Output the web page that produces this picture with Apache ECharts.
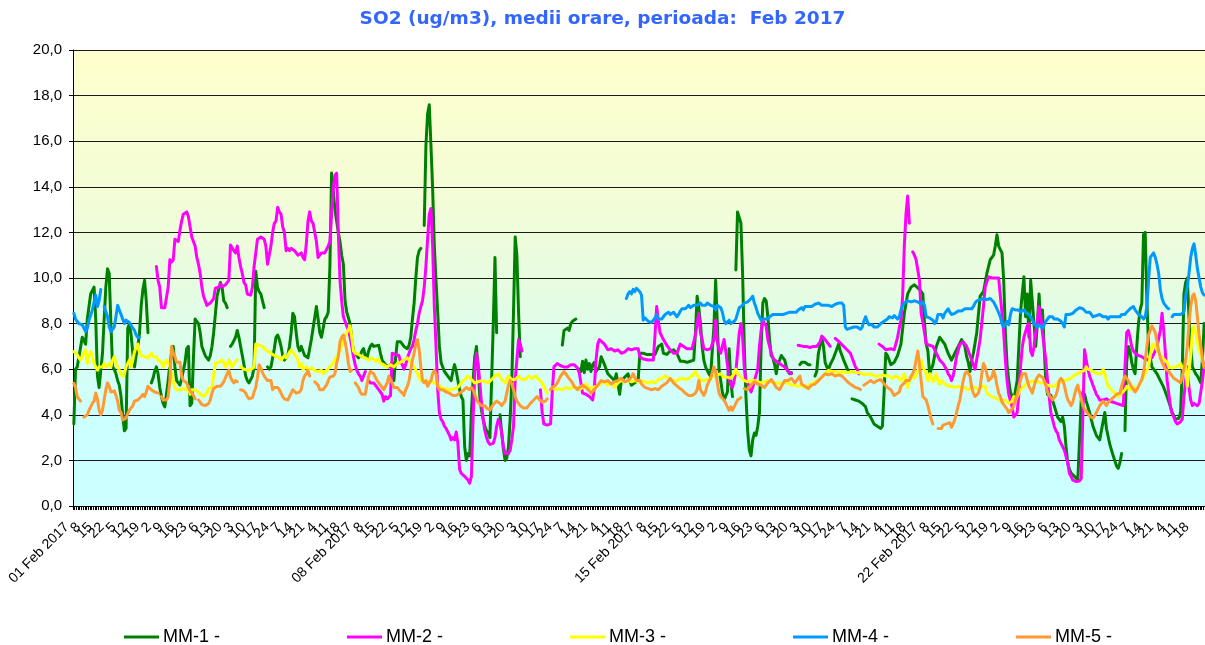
<!DOCTYPE html>
<html><head><meta charset="utf-8">
<script src="https://cdn.jsdelivr.net/npm/echarts@6/dist/echarts.min.js"></script>
<style>html,body{margin:0;padding:0;background:#fff}#c{width:1205px;height:645px}</style>
</head><body><div id="c"></div>
<script>
// ---- tick labels ----
const days = [];
for (let d = 1; d <= 28; d++) days.push((d < 10 ? '0' + d : '' + d) + ' Feb 2017');
const hours = ['1','2','3','4','5','6','7','8','9','10','11','12','13','14','15','16','17','18','19','20','21','22','23','24'];
const labelStep = 7;
const yTicks = [0,2,4,6,8,10,12,14,16,18,20];
const seriesNames = ['MM-1 -','MM-2 -','MM-3 -','MM-4 -','MM-5 -'];

// ---- series values: flat lists of (hour index, value); null = no data ----
const mm1 = [0,3.6,1,6.0,2,6.1,3,6.1,5,7.4,7,7.1,8,8.2,10,9.3,12,9.6,13,8.2,14,5.7,15,5.2,17,6.7,18,8.2,19,9.6,20,10.4,21,10.2,22,8.0,23,6.1,24,6.0,25,5.8,26,5.5,27,5.3,28,4.8,29,4.0,30,3.3,31,3.4,32,7.8,33,8.0,34,7.5,35,6.7,36,6.1,37,6.6,38,7.0,39,7.6,40,8.8,41,9.5,42,9.9,43,9.0,44,7.6,45,null,46,5.4,47,5.6,48,5.9,49,6.1,50,5.8,51,5.2,52,4.8,53,4.5,54,4.35,55,4.4,56,5.5,57,6.2,58,6.7,59,7.0,60,6.1,61,5.5,62,5.4,63,5.3,64,5.6,65,5.6,66,6.3,67,6.9,68,7.0,69,4.4,70,4.5,71,6.5,72,8.2,73,8.2,74,8.0,75,7.6,76,7.0,77,6.8,78,6.6,79,6.5,80,6.4,81,6.6,82,7.0,83,7.6,84,8.4,85,9.2,86,9.2,87,9.8,88,9.6,89,9.0,90,8.9,91,8.7,92,null,93,7.0,94,7.1,95,7.1,96,7.4,97,7.7,98,7.4,99,7.0,100,6.6,101,6.2,102,5.7,103,5.5,104,5.4,105,5.4,106,5.7,107,6.1,108,10.3,109,9.6,110,9.4,111,9.3,112,9.0,113,8.7,114,null,115,6.1,116,6.0,117,6.1,118,6.1,119,6.9,120,7.4,121,7.5,122,7.3,123,7.0,124,6.6,125,6.4,126,6.4,127,6.6,128,7.0,129,7.6,130,8.45,131,8.3,132,7.6,133,7.0,134,6.8,135,7.0,137,6.6,139,6.5,141,7.3,142,7.35,144,8.75,145,8.2,146,7.6,147,7.4,148,7.8,149,8.2,150,8.3,151,8.5,152,10.5,153,14.6,154,13.8,155,13.0,156,12.5,157,12.0,158,11.6,159,11.0,160,10.6,161,9.0,162,8.5,163,8.5,164,8.0,165,7.3,166,6.8,167,6.7,168,6.6,169,6.5,170,6.6,171,6.8,172,6.9,173,6.6,174,6.5,175,6.8,176,7.0,177,7.1,178,7.0,179,7.05,181,7.05,182,6.7,183,6.4,185,6.2,187,6.1,189,6.3,190,5.5,191,6.5,192,7.2,193,7.2,194,7.2,195,7.1,196,7.0,198,6.9,199,7.05,200,7.4,201,8.2,202,8.9,203,10.0,204,10.9,205,11.2,206,11.3,207,null,208,12.3,209,15.8,210,17.2,211,17.6,212,15.8,213,13.9,214,11.4,215,9.9,216,8.5,217,7.0,218,6.3,219,6.1,220,5.9,221,5.8,222,5.7,223,5.6,224,5.5,225,5.9,226,6.2,227,5.9,228,5.5,229,5.1,230,4.8,231,4.65,232,2.6,233,2.0,234,2.3,235,2.2,236,4.1,237,5.5,238,6.55,239,7.0,240,6.0,241,4.8,242,4.2,243,3.8,244,3.5,245,3.3,246,3.2,247,3.0,248,5.5,249,8.0,250,10.9,251,7.6,252,null,253,4.0,254,3.2,255,2.5,256,2.0,257,2.1,258,2.6,259,3.8,260,5.5,261,8.5,262,11.8,263,11.0,264,8.5,265,6.55,266,null,290,7.06,291,7.7,292,7.75,293,7.8,294,7.7,295,8.0,296,8.1,297,8.15,298,8.2,299,null,300,6.0,301,5.9,302,6.35,303,5.85,304,6.4,305,6.0,306,6.25,307,5.9,308,6.2,309,6.3,310,5.9,311,6.0,312,6.1,313,6.55,315,6.2,317,5.8,319,5.65,321,5.5,322,5.8,324,4.9,325,5.5,327,5.65,329,5.8,330,5.5,331,5.3,333,5.4,335,5.5,336,6.7,338,6.7,340,6.65,343,6.65,345,6.65,347,7.0,349,7.1,350,6.7,352,6.65,354,6.8,356,6.85,358,6.7,360,6.35,362,6.35,364,6.3,366,6.35,368,6.4,369,7.6,370,9.2,371,8.7,372,8.0,373,7.0,374,6.4,375,6.1,376,5.95,377,5.8,378,5.7,379,5.7,380,7.9,381,9.9,382,8.0,383,6.0,384,5.5,385,5.0,386,4.65,387,4.7,388,5.0,389,6.9,390,5.5,391,4.8,392,null,393,10.35,394,12.9,395,12.9,396,12.4,397,10.2,398,7.0,399,4.8,400,3.3,401,2.45,402,2.2,403,2.9,404,3.2,405,3.1,406,3.5,407,4.1,408,7.0,409,8.9,410,9.1,411,9.0,412,8.3,413,7.3,414,6.6,415,6.5,416,6.2,417,5.8,418,6.25,419,6.4,420,6.6,421,6.6,422,6.4,423,6.1,424,5.9,425,5.8,426,5.85,427,null,431,6.2,432,6.3,434,6.3,436,6.2,437,6.2,438,null,440,5.7,441,5.9,442,6.7,443,7.05,444,7.4,445,7.0,446,6.3,447,6.1,448,6.0,449,6.2,451,6.5,453,6.9,454,7.1,455,6.8,457,6.4,459,6.05,460,5.9,461,null,462,4.7,464,4.65,466,4.6,468,4.5,470,4.35,471,4.1,473,3.9,475,3.6,477,3.5,479,3.4,480,3.5,481,5.0,482,6.7,483,6.6,485,6.2,487,6.3,489,6.6,491,7.1,493,8.45,495,9.3,497,9.6,499,9.7,500,9.65,502,9.5,504,9.3,505,8.0,506,7.1,507,6.8,508,5.8,510,6.2,512,7.0,514,7.4,515,7.45,517,7.1,519,6.7,521,6.4,523,6.7,525,7.0,527,7.3,529,7.0,530,6.55,531,6.3,532,5.9,533,6.4,534,6.7,536,7.6,538,9.2,540,9.4,542,10.2,544,10.8,546,11.0,547,11.4,548,11.9,549,11.4,551,11.1,552,9.9,553,7.6,554,6.2,555,5.5,556,5.0,557,4.8,558,4.65,559,4.65,560,5.5,561,7.0,562,8.5,563,9.3,564,10.05,565,8.3,566,9.3,567,7.4,568,9.9,569,9.9,570,8.0,571,7.0,572,8.0,573,9.3,574,7.9,575,8.6,576,7.0,577,5.5,578,4.9,580,4.85,582,4.4,584,3.9,586,3.7,587,3.9,588,3.5,589,2.6,590,1.9,591,1.6,592,1.45,594,1.3,596,1.15,597,1.14,598,4.6,599,5.0,600,4.9,601,4.6,603,4.1,605,3.5,607,3.1,609,2.9,610,3.3,611,3.7,612,4.1,613,3.4,615,2.7,617,2.2,619,1.75,620,1.65,621,1.9,622,2.3,623,null,624,3.3,625,6.3,626,7.0,627,6.8,628,6.3,629,6.0,630,5.8,631,7.0,632,8.0,633,8.6,634,8.9,635,11.9,636,12.0,637,9.0,638,7.0,639,6.5,640,6.1,641,6.0,643,5.8,645,5.5,647,5.2,649,4.8,651,4.35,652,4.1,654,3.8,656,3.85,657,4.1,658,6.0,659,9.3,660,9.8,661,10.0,662,8.3,663,7.0,664,6.1,666,5.8,667,5.7,669,5.4,670,6.5,671,8.0];

const mm2 = [49,10.5,50,9.9,51,9.6,52,8.7,53,8.7,54,8.7,55,8.7,56,9.6,57,10.8,58,10.7,59,10.8,60,11.7,61,11.65,62,11.6,63,12.1,64,12.5,65,12.8,66,12.8,67,12.9,68,12.7,69,12.25,70,11.8,71,11.6,72,11.4,73,10.9,74,10.6,75,10.2,76,9.6,77,9.2,78,9.2,79,8.8,80,8.75,81,8.9,82,9.0,83,9.1,84,9.55,85,9.6,86,9.6,87,9.75,88,9.6,89,9.6,90,9.7,91,9.8,92,9.9,93,11.45,94,11.5,95,11.2,96,11.1,97,11.4,98,10.9,99,10.5,100,10.2,101,9.8,102,9.7,103,9.3,104,9.25,105,9.25,106,9.6,107,10.5,108,11.1,109,11.7,110,11.7,111,11.8,112,11.8,113,11.7,114,11.4,115,10.6,116,10.6,117,11.4,118,12.0,119,12.4,120,12.5,121,13.1,122,12.9,123,12.8,124,12.25,125,12.0,126,11.2,127,11.3,128,11.2,129,11.3,130,11.3,131,11.2,132,11.25,133,11.0,134,11.0,135,11.1,136,10.9,137,10.8,138,11.5,139,12.5,140,12.9,141,12.5,142,12.4,143,12.45,144,11.6,145,10.9,146,11.0,147,11.1,148,11.05,149,11.1,150,11.1,151,11.4,152,11.6,153,12.8,154,13.9,155,14.5,156,14.6,157,12.0,158,9.9,159,9.0,160,8.3,161,8.1,162,7.9,163,7.7,164,7.4,165,7.0,166,6.55,167,6.2,168,5.95,169,5.8,170,5.7,171,5.5,172,5.7,173,5.9,174,null,175,5.5,176,5.4,177,5.35,178,5.4,179,5.3,180,5.2,181,5.1,182,5.0,183,4.9,184,4.6,185,4.8,186,4.7,187,4.75,188,4.85,189,6.7,190,6.75,191,6.65,192,6.6,193,6.6,194,6.3,195,6.2,196,6.0,197,6.2,198,6.5,199,6.7,200,6.9,201,7.0,202,7.3,203,7.7,204,8.0,205,8.45,206,8.75,207,9.0,208,9.6,209,10.5,210,11.7,211,12.8,212,13.05,213,11.4,214,8.75,215,7.0,216,5.1,217,4.1,218,3.8,219,3.7,220,3.5,221,3.4,222,3.25,223,3.1,224,2.9,225,3.0,226,2.9,227,3.25,228,2.75,229,1.6,230,1.43,231,1.4,232,1.3,233,1.25,234,1.14,235,1.0,236,1.3,237,3.8,238,5.85,239,6.7,240,6.25,241,5.4,242,4.5,243,3.8,244,3.3,245,3.0,246,2.8,247,2.7,248,2.7,249,2.75,250,3.0,251,3.5,252,3.8,253,3.6,254,3.2,255,2.6,256,2.3,257,2.25,258,2.3,259,2.45,260,2.9,261,3.5,262,5.5,263,6.4,264,7.3,265,7.1,266,6.8,267,null,277,5.1,278,4.1,279,3.6,280,3.55,281,3.55,282,3.55,283,3.6,284,5.0,285,6.1,287,6.25,289,6.15,291,6.1,293,6.1,295,6.2,297,6.2,299,6.05,300,5.85,301,5.4,302,4.95,304,4.9,306,4.8,308,4.65,309,5.2,310,6.4,311,7.1,312,7.3,313,7.3,315,7.1,317,6.85,319,6.9,321,6.8,323,6.85,325,6.7,327,6.75,329,6.9,331,6.85,333,6.9,335,6.9,336,6.55,338,6.45,341,6.4,344,6.4,345,7.5,346,8.75,347,8.1,348,7.6,350,7.3,352,7.05,354,6.85,356,6.7,358,6.7,360,7.1,362,7.0,364,6.9,367,6.9,369,7.5,370,8.0,371,8.45,372,7.6,373,7.3,374,6.9,376,6.85,378,6.9,380,7.3,381,8.15,382,7.2,383,6.9,384,6.7,385,7.0,386,7.3,387,6.8,388,6.2,389,5.6,390,5.3,391,5.2,392,5.5,393,5.9,394,6.7,395,7.6,396,8.0,397,7.4,398,6.1,399,5.5,400,5.4,401,5.2,402,5.0,403,5.2,404,5.5,405,5.5,406,6.0,407,7.0,408,7.7,409,8.15,410,8.0,411,7.9,412,7.3,413,7.0,414,6.7,415,6.5,416,6.4,417,6.35,418,6.3,419,6.3,420,6.2,421,6.15,422,6.1,423,6.0,424,5.9,425,5.85,426,5.8,427,null,430,7.05,431,7.1,433,7.0,435,7.0,437,6.95,439,7.0,441,7.0,443,7.2,444,7.45,445,7.5,446,7.3,448,7.1,449,7.0,450,null,452,7.35,453,7.3,455,7.15,457,7.0,459,6.85,461,6.7,462,6.5,463,6.3,464,6.1,465,6.0,466,5.8,467,null,478,7.1,479,7.1,480,7.0,481,6.95,482,6.85,483,6.85,485,6.9,487,6.85,489,7.4,490,7.8,491,8.15,492,9.2,493,11.4,494,12.8,495,13.6,496,12.4,497,null,498,11.15,499,11.0,500,10.8,501,10.8,502,9.9,503,8.45,504,8.05,505,7.6,506,7.1,508,7.05,510,7.0,512,6.7,514,6.4,516,6.25,518,6.0,519,5.8,520,5.7,521,5.5,522,5.7,523,6.1,524,6.55,526,7.1,528,7.2,530,7.0,531,6.8,533,6.4,535,6.0,536,5.95,538,7.3,540,8.75,541,9.6,543,10.05,545,10.0,547,10.0,549,10.0,550,10.0,551,8.45,552,7.6,553,6.4,554,5.5,555,4.9,557,4.35,558,3.9,559,3.95,560,4.1,561,4.9,562,6.1,563,6.95,564,7.4,566,7.9,567,8.0,568,6.8,569,6.6,570,7.0,571,7.6,572,8.15,573,8.75,574,8.3,575,7.6,576,7.0,577,6.4,578,5.5,579,4.8,580,4.1,581,3.8,582,3.5,583,3.3,584,3.2,585,2.9,586,2.75,587,2.6,588,2.45,589,2.4,590,1.9,591,1.43,592,1.3,593,1.14,594,1.1,595,1.07,596,1.07,597,1.1,598,1.2,599,4.0,600,6.85,601,6.4,602,6.0,603,5.7,604,5.5,605,5.3,606,5.1,607,4.9,608,4.8,609,4.65,611,4.65,613,4.7,615,4.6,617,4.55,619,4.5,621,4.45,623,4.4,624,6.1,625,7.6,626,7.7,627,7.4,628,7.0,629,6.8,630,6.7,632,6.6,634,6.55,636,6.45,638,6.4,640,6.5,642,6.8,643,7.0,645,7.7,646,8.45,647,7.7,648,6.7,649,5.5,650,4.95,651,4.35,652,4.05,653,3.9,654,3.7,655,3.6,656,3.6,657,3.7,658,3.8,659,4.8,660,5.5,661,6.1,662,5.2,663,4.65,664,4.4,665,4.5,666,4.5,667,4.4,668,4.5,669,5.0,670,5.5,671,6.1];

const mm3 = [0,6.77,1,6.7,2,6.65,3,6.5,4,6.4,5,6.55,6,6.5,7,6.85,8,6.25,9,6.6,10,6.77,11,6.55,12,6.25,13,6.1,14,5.96,15,6.1,16,6.05,17,6.1,18,6.25,19,6.1,20,6.05,21,6.25,22,6.1,23,6.4,24,6.55,25,6.25,26,6.1,27,5.96,28,5.8,29,5.67,30,5.8,31,6.1,32,6.25,33,6.4,34,6.1,35,6.4,36,6.77,37,6.7,38,7.1,39,6.7,40,6.6,41,6.55,42,6.55,43,6.6,44,6.5,45,6.55,46,6.7,47,6.55,48,6.6,49,6.55,50,6.4,51,6.45,52,6.3,53,6.1,54,6.25,55,6.4,56,6.25,57,6.1,58,5.8,59,5.5,60,5.2,61,5.1,62,5.15,63,5.1,64,5.1,65,5.15,66,5.15,67,5.1,68,5.25,69,4.9,70,5.1,71,5.15,72,5.1,73,5.15,74,5.0,75,4.9,76,4.85,77,4.8,78,4.75,79,4.95,80,5.15,81,5.1,82,5.2,83,5.2,84,6.25,85,6.25,86,6.3,87,6.25,88,6.4,89,6.3,90,6.1,91,6.2,92,6.4,93,6.25,94,6.1,95,6.25,96,6.3,97,6.4,98,null,99,6.1,100,6.05,101,6.0,102,6.0,103,5.95,104,5.95,105,5.97,106,6.05,107,6.1,108,7.1,109,7.1,110,7.05,111,7.0,112,7.0,113,6.9,114,6.85,115,6.8,116,6.75,117,6.7,118,6.65,119,6.6,120,6.6,121,6.55,122,6.5,123,6.4,124,6.45,125,6.6,126,6.5,127,6.6,128,6.75,129,6.85,130,6.75,131,6.7,132,6.55,133,6.4,134,6.1,135,6.25,136,6.0,137,6.05,138,6.1,139,6.0,141,6.05,143,5.95,145,5.9,147,5.95,148,5.8,150,5.95,152,6.1,154,6.25,156,6.55,158,6.8,160,7.3,162,7.6,164,7.9,165,7.4,166,6.8,167,6.7,169,6.65,171,6.55,173,6.5,175,6.4,177,6.5,179,6.35,181,6.45,182,6.25,184,6.2,186,6.1,188,6.2,190,6.1,192,6.25,194,6.3,196,6.4,198,6.5,200,6.3,202,6.1,204,5.8,206,5.5,208,5.5,210,5.45,212,5.5,214,5.4,216,5.35,218,5.2,220,5.15,222,5.1,224,5.1,226,5.15,228,5.2,230,5.4,232,5.55,234,5.7,236,5.55,238,5.4,240,5.45,242,5.5,244,5.45,246,5.4,248,5.55,250,5.7,252,5.8,254,5.55,256,5.4,258,5.7,260,5.55,262,5.55,264,5.7,266,5.55,268,5.55,270,5.7,272,5.6,274,5.7,276,5.55,278,5.4,280,5.1,281,4.95,282,null,284,5.2,286,5.1,288,5.15,290,5.1,292,5.2,294,5.15,296,5.2,298,5.2,300,5.1,302,5.2,304,5.35,306,5.15,308,5.2,310,5.25,312,5.3,313,5.4,315,5.45,317,5.3,319,5.4,321,5.2,323,5.4,325,5.5,327,5.45,329,5.5,331,5.45,333,5.5,335,5.45,337,5.5,339,5.45,341,5.4,343,5.45,345,5.4,347,5.55,349,5.6,351,5.7,353,5.6,355,5.55,357,5.45,359,5.55,361,5.6,363,5.55,365,5.6,367,5.7,369,5.9,370,5.85,372,5.5,373,5.45,374,5.5,376,5.55,378,5.6,380,5.7,382,5.75,384,5.8,386,5.65,388,5.65,390,5.6,392,5.8,393,6.0,394,5.8,396,5.65,398,5.5,400,5.45,402,5.5,404,5.5,406,5.45,408,5.4,410,5.45,412,5.5,414,5.45,416,5.4,418,5.4,420,5.35,422,5.4,424,5.4,426,5.3,428,5.3,430,5.25,432,5.3,434,5.2,436,5.3,438,5.35,440,5.45,442,5.5,444,5.65,446,5.8,448,5.95,450,5.9,452,5.9,454,5.85,456,5.9,458,5.85,460,5.85,462,5.9,464,5.85,466,5.85,468,5.8,470,5.75,472,5.8,474,5.75,476,5.7,478,5.7,480,5.75,482,5.7,484,5.7,486,5.6,488,5.7,490,5.6,491,5.5,493,5.8,494,5.5,495,5.2,496,5.5,497,5.65,498,5.7,499,5.6,500,5.65,502,6.1,503,6.4,504,6.1,505,6.1,506,5.8,507,5.5,508,5.8,509,5.65,510,5.45,511,5.65,512,5.8,513,5.5,514,5.35,515,5.5,516,5.55,517,5.35,518,5.3,519,5.25,521,5.25,523,5.2,525,5.25,527,5.2,529,5.2,531,5.1,533,5.2,535,5.2,537,5.1,539,5.25,541,5.25,542,4.95,543,4.9,545,4.8,547,4.75,549,4.65,551,4.6,553,4.65,555,4.5,557,4.6,558,4.8,559,4.6,560,4.8,562,5.1,564,5.25,566,5.4,568,5.45,570,5.5,572,5.45,574,5.4,576,5.4,578,5.3,580,5.25,582,5.25,584,5.4,586,5.45,588,5.5,590,5.55,592,5.6,594,5.75,596,5.8,598,5.9,600,5.95,601,6.1,602,6.0,604,5.95,606,5.85,608,5.8,610,5.8,611,6.0,612,5.8,613,5.5,614,5.25,616,5.1,618,4.95,620,4.8,622,4.95,624,5.1,625,5.25,627,5.1,629,5.25,631,5.1,632,5.25,633,5.4,634,5.5,636,5.8,638,6.1,639,6.6,640,7.0,641,7.1,642,7.0,643,6.85,644,6.7,645,6.6,647,6.45,649,6.3,650,6.1,652,6.05,654,6.1,656,6.15,657,6.25,658,6.05,659,6.1,660,6.1,661,5.25,662,5.3,663,6.6,664,7.6,665,7.9,666,7.6,667,7.2,668,6.9,669,6.6,670,6.4,671,6.1];

const mm4 = [0,8.45,1,8.2,2,8.1,3,8.0,4,8.0,5,7.95,6,7.9,7,7.65,8,7.8,9,8.15,10,8.2,11,8.6,12,8.95,13,9.25,14,8.75,15,9.0,16,9.5,17,null,18,8.75,19,8.7,20,8.3,21,7.85,22,7.65,23,7.65,24,7.85,25,8.3,26,8.8,27,8.6,28,8.4,29,8.2,30,8.0,31,8.15,32,8.15,33,8.05,34,8.0,35,7.8,36,7.7,37,7.5,38,7.4,39,7.4,40,null,328,9.1,329,9.3,330,9.4,331,9.3,332,9.5,333,9.4,334,9.55,335,9.55,336,9.4,337,9.25,338,8.15,339,8.25,340,8.2,341,8.1,342,8.15,343,8.05,344,8.1,345,8.25,346,8.4,347,8.2,348,8.25,349,8.2,350,8.3,351,8.4,352,8.45,353,8.5,354,8.4,355,8.35,356,8.5,357,8.45,358,8.3,359,8.4,360,8.55,361,8.65,362,8.6,363,8.65,364,8.7,365,8.8,366,8.7,367,8.75,368,8.8,369,8.75,370,8.8,371,8.85,372,8.9,373,8.8,374,8.75,375,8.8,376,8.9,377,8.95,378,8.8,379,8.85,380,8.75,381,8.6,382,8.8,383,8.75,384,8.7,385,8.5,386,8.15,387,8.0,388,8.0,389,8.15,390,8.0,391,7.95,392,8.1,393,8.2,394,8.45,395,8.7,396,8.75,397,8.8,398,8.9,399,8.95,400,8.95,401,9.0,402,9.1,403,9.2,404,8.9,405,8.7,406,8.45,407,8.3,408,8.15,409,8.15,410,8.2,411,8.25,412,8.2,413,8.3,414,8.3,415,8.4,416,8.45,417,8.4,418,8.35,419,8.4,420,8.45,421,8.4,422,8.35,423,8.45,424,8.5,425,8.5,426,8.45,427,8.5,428,8.55,429,8.5,430,8.6,431,8.65,432,8.7,433,8.6,434,8.75,435,8.7,436,8.75,437,8.8,438,8.75,439,8.8,440,8.85,441,8.8,442,8.9,443,8.85,444,8.8,445,8.85,446,8.8,447,8.75,448,8.8,449,8.85,450,8.75,451,8.8,452,8.85,453,8.8,454,8.9,455,8.85,456,8.9,457,8.8,458,7.85,459,7.75,460,7.7,461,7.8,462,7.75,463,7.85,464,7.8,465,7.85,466,7.8,467,7.75,468,7.85,469,8.1,470,8.3,471,8.1,472,7.95,473,7.9,474,7.95,475,7.85,476,7.8,477,7.85,478,7.9,479,8.0,480,8.05,481,8.1,482,8.15,483,8.2,484,8.3,485,8.35,486,8.25,487,8.35,488,8.3,489,8.2,490,8.3,491,8.6,492,8.8,493,8.9,494,8.95,495,9.0,496,9.0,497,8.95,498,9.0,499,9.0,500,8.95,501,8.95,502,8.9,503,8.85,504,8.95,505,8.8,506,8.3,507,8.3,508,8.25,509,8.2,510,8.15,511,8.0,512,8.1,513,8.4,514,8.35,515,8.4,516,8.25,517,8.45,518,8.5,519,8.65,520,8.5,521,8.4,522,8.35,523,8.45,524,8.5,525,8.55,526,8.5,527,8.55,528,8.6,529,8.65,530,8.7,531,8.65,532,8.6,533,8.65,534,8.75,535,8.9,536,9.0,537,9.0,538,9.05,539,9.1,540,9.1,541,9.05,542,9.05,543,9.1,544,9.1,545,9.05,546,8.95,547,8.8,548,8.65,549,8.7,550,8.3,551,8.0,552,7.85,553,7.9,554,8.1,555,7.95,556,8.4,557,8.65,558,8.7,559,8.6,560,8.65,561,8.6,562,8.5,563,8.55,564,8.6,565,8.5,566,8.55,567,8.4,568,8.3,569,8.15,570,8.0,571,8.0,572,7.85,573,7.95,574,8.0,575,7.8,576,7.95,577,8.1,578,8.2,579,8.3,580,8.25,581,8.3,582,8.2,583,8.25,584,8.2,585,8.15,586,8.1,587,8.0,588,7.85,589,8.4,590,8.45,591,8.4,592,8.35,593,8.45,594,8.5,595,8.6,596,8.55,597,8.7,598,8.75,599,8.65,600,8.6,601,8.5,602,8.45,603,8.5,604,8.4,605,8.3,606,8.3,607,8.35,608,8.3,609,8.4,610,8.35,611,8.3,612,8.25,613,8.3,614,8.2,615,8.3,616,8.35,617,8.3,618,8.25,619,8.3,620,8.25,621,8.3,622,8.4,623,8.35,624,8.4,625,8.5,626,8.55,627,8.65,628,8.7,629,8.75,630,8.6,631,8.5,632,8.4,633,8.35,634,8.3,635,8.2,636,8.3,637,8.75,638,9.9,639,10.9,640,11.0,641,11.1,642,10.9,643,10.6,644,10.2,645,9.5,646,9.1,647,8.9,648,8.8,649,8.7,650,8.65,651,null,652,8.3,653,8.4,654,8.45,655,8.4,656,8.45,657,8.4,658,8.45,659,8.5,660,9.2,661,9.6,662,10.2,663,10.9,664,11.3,665,11.5,666,11.0,667,10.4,668,10.0,669,9.6,670,9.35,671,9.25];

const mm5 = [0,5.38,1,5.2,2,4.8,3,4.7,4,4.6,5,null,6,3.9,7,3.9,8,4.0,9,4.2,10,4.35,11,4.5,12,4.6,13,4.95,14,4.7,15,4.2,16,4.0,17,4.2,18,4.65,19,5.1,20,5.4,21,5.25,22,5.0,23,5.0,24,5.05,25,4.85,26,4.6,27,4.2,28,4.1,29,3.77,30,3.77,31,3.85,32,4.05,33,4.2,34,4.3,35,4.4,36,4.6,37,4.65,38,4.65,39,4.7,40,4.8,41,4.9,42,4.8,43,5.0,44,5.25,45,5.2,46,5.1,47,5.05,48,5.0,49,5.05,50,4.95,51,null,52,4.8,53,4.65,54,4.6,55,4.65,56,4.8,57,5.5,58,7.0,59,6.7,60,6.55,61,6.3,62,6.35,63,6.3,64,5.7,65,5.5,66,5.5,67,5.4,68,5.2,69,5.05,70,4.95,71,4.85,72,4.7,73,null,74,4.65,75,4.6,76,4.45,77,4.4,78,4.4,79,4.4,80,4.5,81,4.65,82,4.95,83,5.15,84,5.2,85,5.25,86,5.2,87,5.25,88,5.2,89,5.45,90,5.4,91,5.8,92,5.95,93,5.65,94,5.5,95,5.4,96,5.5,97,5.45,98,null,99,5.1,100,5.1,101,5.05,102,4.95,103,4.8,104,4.7,105,4.7,106,4.75,107,5.0,108,5.2,109,5.65,110,6.2,111,6.05,112,5.85,113,5.7,114,5.6,115,5.5,116,5.55,117,5.5,118,5.1,119,5.2,120,5.15,121,5.2,122,5.1,123,4.95,124,4.8,125,4.7,126,4.65,127,4.65,128,4.8,129,4.95,130,5.1,131,5.05,132,4.95,133,4.9,134,5.0,135,5.1,136,5.5,137,5.7,138,5.8,139,5.95,140,5.7,141,null,143,5.45,144,5.4,145,5.3,146,5.1,147,5.05,148,5.1,149,5.05,150,5.3,151,5.5,152,5.65,153,5.6,154,5.7,155,5.8,156,6.25,157,6.55,158,7.2,159,7.4,160,7.5,161,7.2,162,6.8,163,6.25,164,5.9,165,5.95,166,null,167,5.4,168,5.35,169,5.2,170,5.0,171,4.9,172,4.85,173,4.9,174,4.85,175,5.7,176,5.9,177,5.95,178,5.8,179,5.65,180,5.5,181,5.4,182,5.3,183,5.2,184,5.1,185,5.15,186,5.4,187,5.7,188,5.75,189,5.4,190,5.2,191,5.25,192,5.2,193,5.1,194,5.05,195,4.95,196,4.85,197,5.1,198,5.25,199,5.5,200,5.95,201,6.4,202,6.7,203,7.1,204,7.3,205,6.85,206,6.1,207,5.5,208,5.4,209,5.5,210,5.25,211,5.4,212,5.5,213,5.8,214,5.95,215,5.8,216,5.25,217,5.1,218,5.15,219,5.1,220,5.1,221,5.0,222,4.95,223,4.95,224,4.9,225,4.85,226,4.8,227,4.85,228,4.9,229,4.95,230,5.0,231,5.05,232,5.1,233,5.2,234,5.15,235,5.1,236,5.2,237,5.1,238,4.9,239,4.7,240,4.55,241,4.5,242,4.4,243,4.45,244,4.4,245,4.3,246,4.25,247,4.2,248,4.35,249,4.45,250,4.5,251,4.6,252,4.65,253,4.5,254,4.4,255,4.4,256,4.6,257,4.95,258,5.3,259,5.5,260,5.35,261,5.1,262,4.8,263,4.6,264,4.5,265,4.4,266,4.35,267,4.3,268,4.3,269,4.3,270,4.4,271,4.5,272,4.55,273,4.65,274,4.7,275,4.8,276,4.7,277,4.65,278,4.55,279,4.5,280,4.6,281,4.7,282,null,283,5.1,284,5.2,285,5.25,286,5.3,287,5.4,288,5.55,289,5.7,290,5.8,291,5.9,292,5.8,293,5.7,294,5.6,295,5.55,296,5.4,297,5.25,298,5.2,299,5.1,300,5.2,301,5.25,302,5.3,303,5.3,304,5.2,305,5.15,306,5.05,307,4.95,308,5.0,309,5.1,310,5.2,311,5.25,312,5.4,313,5.5,315,5.45,317,5.5,319,5.35,321,5.45,323,5.5,325,5.6,327,5.45,329,5.5,331,5.65,332,5.8,333,5.65,334,5.5,335,5.45,336,5.5,337,5.35,338,5.3,339,5.2,341,5.15,343,5.1,345,5.15,347,5.1,349,5.25,350,5.2,352,5.4,353,5.5,354,5.6,355,5.5,356,5.4,357,5.35,359,5.2,361,5.1,363,4.95,365,4.85,367,4.85,369,4.95,370,5.1,371,5.5,372,5.1,374,4.85,375,5.0,376,5.3,378,5.6,380,6.1,381,5.9,382,5.4,383,4.95,384,4.8,386,4.65,387,4.5,388,4.35,389,4.2,390,4.35,391,4.2,392,4.35,393,4.5,394,4.65,395,4.7,396,4.75,397,null,398,5.15,400,5.1,401,5.15,402,5.3,404,5.45,405,5.4,406,5.35,408,5.3,410,5.2,412,5.4,414,5.55,415,5.45,417,5.2,419,5.1,420,5.25,422,5.5,424,5.5,426,5.6,428,5.4,431,5.7,432,5.35,434,5.25,436,5.15,438,5.3,440,5.35,442,5.5,444,5.65,446,5.8,448,5.75,450,5.8,452,5.7,454,5.75,456,5.7,458,5.55,460,5.4,462,5.3,464,5.2,466,5.15,467,5.1,468,null,469,5.3,471,5.4,473,5.5,475,5.4,477,5.5,479,5.55,481,5.35,483,5.2,485,5.1,487,4.85,488,4.8,490,5.0,491,5.25,492,5.3,493,5.4,494,5.5,495,5.55,496,5.5,497,5.7,498,5.8,499,6.0,500,6.4,501,6.8,502,6.2,503,5.5,504,4.8,505,4.8,506,4.65,507,4.4,508,4.1,509,3.8,510,3.6,511,null,513,3.4,514,3.45,515,3.4,516,3.55,517,3.5,518,3.6,519,3.55,520,3.65,521,3.45,522,3.6,523,3.8,524,4.1,525,4.4,526,4.65,527,5.1,528,5.5,529,5.8,530,5.9,531,5.95,532,5.7,533,5.2,534,4.95,535,4.8,536,4.8,537,4.95,538,5.2,539,5.8,540,6.25,541,6.1,542,5.8,543,5.5,544,5.5,545,5.65,546,5.95,547,5.7,548,5.3,549,4.95,550,4.8,551,4.55,552,4.45,553,4.35,554,4.25,555,4.1,556,4.1,557,4.25,558,4.4,559,4.65,560,4.9,561,5.25,562,5.5,563,5.8,564,5.8,565,5.8,566,5.5,567,5.25,568,5.25,569,4.95,570,5.25,571,5.5,572,5.65,573,5.75,574,5.8,575,5.65,576,5.5,577,5.3,578,5.0,579,4.85,580,4.75,581,4.65,582,4.65,583,4.85,584,5.1,585,5.5,586,5.6,587,5.5,588,5.3,589,4.95,590,4.65,591,4.55,592,4.4,593,4.55,594,4.85,595,5.15,596,5.3,597,5.0,598,4.7,599,4.4,600,4.25,601,4.15,602,4.1,603,3.95,604,3.9,605,3.85,606,3.95,607,4.1,608,4.25,609,4.4,610,4.45,611,4.6,612,4.55,613,4.4,614,4.55,615,4.6,617,4.75,619,4.9,621,4.95,622,5.25,623,5.5,624,5.7,625,5.65,626,5.5,627,5.35,628,5.2,629,5.1,630,5.0,631,5.1,632,5.25,633,5.4,634,5.55,635,5.85,636,6.4,637,7.0,638,7.5,639,7.7,640,7.9,641,7.9,642,7.6,643,7.2,644,6.8,645,6.5,646,6.3,647,6.15,648,6.0,649,5.95,650,5.9,651,5.8,652,5.7,653,5.6,654,5.55,655,5.5,656,5.45,657,5.4,658,5.7,659,6.0,660,6.4,661,7.0,662,8.0,663,8.75,664,9.2,665,9.3,666,9.0,667,8.3,668,7.5,669,7.0,670,6.5,671,6.1];

const colors = ['#008000','#FF00FF','#FFFF00','#0099FF','#FF9933'];
const legendLeft = [124, 347, 570, 793, 1016];

// ---- build ----
const categories = [];
for (let d = 0; d < days.length; d++) for (let h = 0; h < hours.length; h++) categories.push(h === 0 ? days[d] : hours[h]);
function pairs(flat) { const out = []; for (let i = 0; i < flat.length; i += 2) out.push([flat[i], flat[i + 1] === null ? '-' : flat[i + 1]]); return out; }
const allData = [mm1, mm2, mm3, mm4, mm5];

const chart = echarts.init(document.getElementById('c'), null, { renderer: 'canvas' });
chart.setOption({
  animation: false,
  backgroundColor: '#ffffff',
  title: { text: 'SO2 (ug/m3), medii orare, perioada:  Feb 2017', left: 'center', top: 5,
    textStyle: { color: '#3366FF', fontWeight: 'bold', fontSize: 18.5, fontFamily: 'DejaVu Sans, sans-serif' } },
  legend: seriesNames.map((n, i) => ({ data: [n], left: legendLeft[i], top: 628, padding: 0, icon: 'rect', itemWidth: 35, itemHeight: 3, itemGap: 0,
    textStyle: { color: '#000', fontSize: 18, fontFamily: 'Liberation Sans, Arial, sans-serif', padding: [0, 0, 0, -1] } })),
  grid: { left: 73, right: 0, top: 50, bottom: 139, show: true, borderWidth: 0,
    backgroundColor: new echarts.graphic.LinearGradient(0, 0, 0, 1, [
      { offset: 0, color: '#FFFFCC' }, { offset: 0.3, color: '#F4FDD6' }, { offset: 0.5, color: '#E8FCE0' },
      { offset: 0.68, color: '#D8FEF0' }, { offset: 0.8, color: '#CCFFFF' }, { offset: 1, color: '#CCFFFF' }]),
    outerBoundsMode: 'none', containLabel: false },
  xAxis: { type: 'category', data: categories, boundaryGap: true,
    axisLine: { lineStyle: { color: '#000', width: 1 } },
    axisTick: { show: true, interval: 0, length: 4, lineStyle: { color: '#000' } },
    axisLabel: { interval: 0, rotate: 45, margin: 12, padding: [0, 10, 0, 0], color: '#000', fontSize: 14,
      fontFamily: 'Liberation Sans, Arial, sans-serif',
      formatter: (v, idx) => (idx % labelStep === 0 ? v : '') },
    splitLine: { show: false } },
  yAxis: { type: 'value', min: yTicks[0], max: yTicks[yTicks.length - 1], interval: 2,
    axisLine: { show: true, lineStyle: { color: '#000', width: 1 } },
    axisTick: { show: true, length: 4, lineStyle: { color: '#000' } },
    axisLabel: { margin: 11, color: '#000', fontSize: 15, fontFamily: 'Liberation Sans, Arial, sans-serif',
      formatter: v => v.toFixed(1).replace('.', ',') },
    splitLine: { show: true, lineStyle: { color: '#1a1a1a', width: 1 } } },
  series: allData.map((flat, i) => ({
    name: seriesNames[i], type: 'line', data: pairs(flat), symbol: 'none', showSymbol: false, connectNulls: false,
    lineStyle: { color: colors[i], width: 3, join: 'round', cap: 'round' }, itemStyle: { color: colors[i] }, z: 2 + i
  }))
});
</script></body></html>
